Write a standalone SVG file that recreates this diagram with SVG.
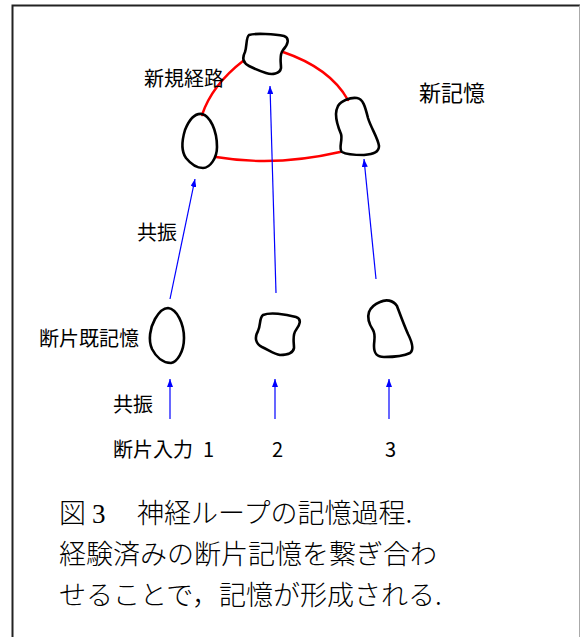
<svg xmlns="http://www.w3.org/2000/svg" width="580" height="637" viewBox="0 0 580 637">
<style>
.blob{fill:none;stroke:#000;stroke-width:2.6;stroke-linejoin:round}
.red{fill:none;stroke:#ff0000;stroke-width:2.4;stroke-linecap:round}
.arr{fill:none;stroke:#0000ff;stroke-width:1.2}
.lbl{font-family:"Noto Sans CJK JP","Noto Sans CJK SC",sans-serif;font-size:20px;fill:#000}
.cap{font-family:"Noto Sans CJK JP","Noto Sans CJK SC",serif;font-size:27px;fill:#000;font-weight:300}
</style>
<defs>
<marker id="ah" viewBox="0 0 8 6" refX="8" refY="3" markerWidth="8" markerHeight="6" markerUnits="userSpaceOnUse" orient="auto">
<path d="M0,0 L8,3 L0,6 z" fill="#0000ff"/>
</marker>
</defs>
<rect width="580" height="637" fill="#fff"/>
<g id="frame">
<path d="M12.5,637 V5.5 H580" fill="none" stroke="#222" stroke-width="2"/>
<path d="M579.5,5.5 V637" fill="none" stroke="#aaa" stroke-width="1"/>
</g>
<g id="connectors">
<path class="red" d="M202,115 Q212,85 243,61"/>
<path class="red" d="M283,52 Q330,68 348,100"/>
<path class="red" d="M216,157 Q275,167 340,152"/>
<line class="arr" x1="170" y1="299" x2="195" y2="179" marker-end="url(#ah)"/>
<line class="arr" x1="276" y1="293" x2="270" y2="86" marker-end="url(#ah)"/>
<line class="arr" x1="376" y1="279" x2="364" y2="159" marker-end="url(#ah)"/>
<line class="arr" x1="170" y1="419" x2="170" y2="379" marker-end="url(#ah)"/>
<line class="arr" x1="275" y1="419" x2="275" y2="379" marker-end="url(#ah)"/>
<line class="arr" x1="389" y1="419" x2="389" y2="379" marker-end="url(#ah)"/>
</g>
<g id="node-top"><path class="blob" d="M249,35 C255,33 275,34 284,36 C290,38 288,45 283,50 C279,55 281,62 281,68 C280,74 272,75 266,73 C260,71 255,69 249,66 C243,63 242,58 245,52 C247,46 246,37 249,35 Z"/></g>
<g id="node-left"><path class="blob" d="M202,114 C210,116 217,130 217,147 C217,158 210,168 203,168 C196,168 190,163 186,158 C181,151 182,140 185,130 C189,120 195,113 202,114 Z"/></g>
<g id="node-right"><path class="blob" d="M338,106 C341,101 350,97 357,98 C363,99 365,106 368,118 C371,128 378,138 379,146 C379,152 374,154 364,155 C355,155 347,155 342,152 C338,149 343,140 341,134 C338,127 336,120 336,114 C336,110 337,108 338,106 Z"/></g>
<g id="node-a"><path class="blob" d="M168,308 C177,309 184,324 184,338 C184,352 177,362 171,363 C163,363 156,357 152,349 C148,340 150,328 155,319 C159,312 163,308 168,308 Z"/></g>
<g id="node-b"><path class="blob" d="M263,315 C270,312 285,314 296,317 C302,319 300,325 296,330 C292,335 294,342 294,348 C293,354 285,355 280,355 C274,354 269,350 262,347 C256,344 254,338 258,331 C261,325 259,318 263,315 Z"/></g>
<g id="node-c"><path class="blob" d="M380,302 C386,299 393,300 397,306 C400,314 404,325 408,334 C412,342 414,350 410,353 C404,356 392,357 384,357 C376,357 374,353 374,346 C374,340 376,335 373,330 C369,324 367,318 369,312 C371,307 375,304 380,302 Z"/></g>
<g id="labels">
<text class="lbl" x="144" y="86">新規経路</text>
<text class="lbl" x="419" y="101" style="font-size:22px">新記憶</text>
<text class="lbl" x="137" y="240">共振</text>
<text class="lbl" x="39" y="346">断片既記憶</text>
<text class="lbl" x="113" y="412">共振</text>
<text class="lbl" x="113" y="457">断片入力<tspan x="203">1</tspan></text>
<text class="lbl" x="272" y="457">2</text>
<text class="lbl" x="385" y="457">3</text>
</g>
<g id="caption">
<text class="cap" x="59" y="523">図<tspan x="92" font-family="Liberation Serif, serif">3</tspan><tspan x="137">神経ループの記憶過程.</tspan></text>
<text class="cap" x="59" y="564">経験済みの断片記憶を繋ぎ合わ</text>
<text class="cap" x="59" y="605">せることで，記憶が形成される.</text>
</g>
</svg>
